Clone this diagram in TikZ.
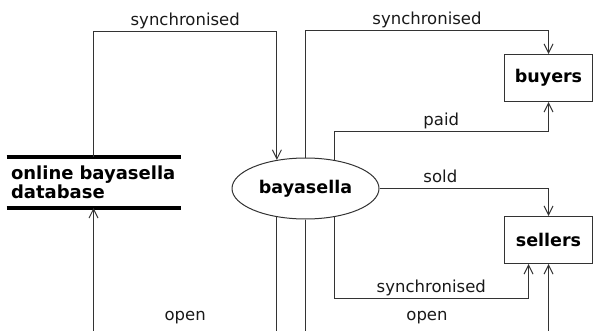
\documentclass[tikz,border=0pt]{standalone}
\usepackage{fontspec}
\setmainfont{DejaVu Sans}
\usetikzlibrary{shapes.geometric,arrows.meta}

\begin{document}
\begin{tikzpicture}[x=1pt, y=-1pt, line width=1pt]
	\tikzstyle{store}   = [minimum width=173pt, minimum height=50pt, text width=165pt, align=left, inner sep=0pt, font=\fontsize{18}{19}\selectfont\bfseries]
	\tikzstyle{process} = [ellipse, draw=black!80, minimum width=147pt, minimum height=61pt, inner sep=0pt, font=\fontsize{17.5}{19}\selectfont\bfseries]
	\tikzstyle{entity}  = [rectangle, draw=black!80, minimum width=88pt, minimum height=47pt, inner sep=0pt, font=\fontsize{17.5}{19}\selectfont\bfseries]
	\tikzstyle{flow}    = [-{Straight Barb[length=9pt,width=9pt]}, draw=black!80]
	\tikzstyle{lbl}     = [anchor=base, yshift=6pt, inner sep=0pt, font=\fontsize{16.5}{19}\selectfont, text=black!90]

	\useasboundingbox (0,0) rectangle (593,331);
	\clip (0,0) rectangle (593,331);
%	\draw[gray!30] (0,0) grid[step=10] (593,331);

	\node[store] (db) at (93.5,182.5) {online bayasella\\database};
	\draw[line width=4.5pt] (db.north west) -- (db.north east) (db.south west) -- (db.south east);

	\node[process] (bay) at (305.5,188.5) {bayasella};

	\foreach \name/\y in {buyers/78, sellers/240}
		\node[entity] (\name) at (548.5,\y) {\name};

	\draw[flow] (db.north) -- ++(0,-125) -| node[lbl, pos=0.25] {synchronised} (bay.135);
	\draw[flow] (bay.north) -- ++(0,-127) -| node[lbl, pos=0.25] {synchronised} (buyers.north);
	\draw[flow] (bay.45) -- ++(0,-28) -| node[lbl, pos=0.25] {paid} (buyers.south);
	\draw[flow] (bay.east) -| node[lbl, pos=0.18] {sold} (sellers.north);
	\draw[flow] (bay.-45) -- ++(0,81) -| node[lbl, pos=0.25] {synchronised} ([xshift=-20pt]sellers.south);
	\draw[flow] (bay.south) -- ++(0,121) -| node[lbl, pos=0.25, yshift=14pt] {open} (sellers.south);
	\draw[flow] (bay.-135) -- ++(0,123) -| node[lbl, pos=0.25, yshift=14pt] {open} (db.south);

\end{tikzpicture}
\end{document}
